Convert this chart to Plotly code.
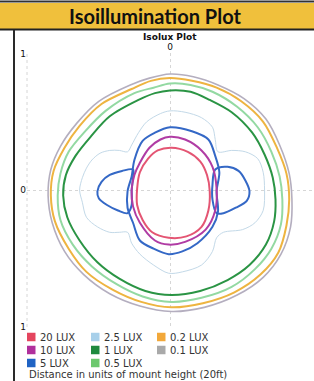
import plotly.graph_objects as go

# ---------------- data (units of mount height) ----------------
legend_labels = ["20 LUX", "2.5 LUX", "0.2 LUX",
                 "10 LUX", "1 LUX", "0.1 LUX",
                 "5 LUX", "0.5 LUX"]
legend_colors = ["#e4455e", "#a8d0ea", "#f2a83a",
                 "#b0309c", "#1e8a3e", "#a9a9a9",
                 "#1f63c4", "#6cc86e"]

axis_tick_vals = [-1, 0, 1]
axis_tick_text = ["1", "0", "1"]

lux20_x = [0.01, 0.13, 0.22, 0.27, 0.29, 0.28, 0.23, 0.12, -0.01, -0.13, -0.20, -0.24, -0.24, -0.22, -0.16, -0.09]
lux20_y = [0.31, 0.28, 0.21, 0.11, -0.01, -0.15, -0.27, -0.34, -0.35, -0.31, -0.22, -0.11, 0.01, 0.13, 0.23, 0.29]

lux10_x = [0.0, 0.11, 0.23, 0.31, 0.34, 0.33, 0.26, 0.11, -0.01, -0.11, -0.22, -0.27, -0.28, -0.26, -0.22, -0.15, -0.07]
lux10_y = [0.39, 0.37, 0.29, 0.17, 0.01, -0.15, -0.29, -0.38, -0.40, -0.37, -0.24, -0.12, 0.0, 0.11, 0.20, 0.31, 0.37]

lux5_x = [0.0, 0.16, 0.28, 0.33, 0.36, 0.34, 0.35, 0.31, 0.20, 0.09, -0.01, -0.12, -0.22, -0.27, -0.31, -0.31, -0.28, -0.26, -0.20, -0.11]
lux5_y = [0.46, 0.43, 0.37, 0.25, 0.13, -0.01, -0.16, -0.27, -0.39, -0.45, -0.47, -0.43, -0.37, -0.24, -0.13, -0.01, 0.10, 0.22, 0.36, 0.42]

lux5_left_x = [-0.27, -0.35, -0.44, -0.50, -0.53, -0.52, -0.46, -0.38, -0.31, -0.28, -0.28, -0.27]
lux5_left_y = [0.15, 0.14, 0.11, 0.06, -0.01, -0.06, -0.11, -0.15, -0.17, -0.11, 0.0, 0.09]

lux5_right_x = [0.33, 0.42, 0.50, 0.55, 0.58, 0.56, 0.48, 0.39, 0.34, 0.31, 0.31]
lux5_right_y = [0.15, 0.17, 0.14, 0.07, -0.01, -0.08, -0.13, -0.17, -0.17, -0.07, 0.04]

lux2_5_x = [0.0, 0.11, 0.23, 0.31, 0.33, 0.35, 0.45, 0.55, 0.64, 0.68, 0.69, 0.68, 0.62, 0.53, 0.39, 0.34, 0.31, 0.23, 0.09, -0.01,
            -0.12, -0.22, -0.28, -0.31, -0.37, -0.44, -0.53, -0.61, -0.64, -0.66, -0.64, -0.61, -0.57, -0.51, -0.44, -0.37, -0.31, -0.28, -0.23, -0.17, -0.07]
lux2_5_y = [0.58, 0.57, 0.53, 0.46, 0.37, 0.28, 0.29, 0.28, 0.23, 0.13, 0.0, -0.15, -0.24, -0.29, -0.31, -0.35, -0.45, -0.55, -0.60, -0.61,
            -0.55, -0.47, -0.39, -0.31, -0.31, -0.31, -0.27, -0.20, -0.09, 0.0, 0.09, 0.16, 0.22, 0.27, 0.29, 0.29, 0.28, 0.33, 0.42, 0.50, 0.56]

lux1_x = [0.0, 0.15, 0.29, 0.45, 0.60, 0.69, 0.75, 0.77, 0.76, 0.70, 0.58, 0.42, 0.22, 0.01, -0.18, -0.37, -0.53, -0.66, -0.75, -0.78, -0.76, -0.69, -0.58, -0.44, -0.23, -0.11]
lux1_y = [0.73, 0.72, 0.66, 0.57, 0.42, 0.26, 0.09, -0.07, -0.23, -0.40, -0.55, -0.66, -0.74, -0.77, -0.74, -0.65, -0.53, -0.37, -0.20, -0.04, 0.11, 0.25, 0.39, 0.54, 0.66, 0.71]

lux0_5_x = [0.0, 0.15, 0.31, 0.49, 0.64, 0.74, 0.80, 0.82, 0.81, 0.74, 0.62, 0.45, 0.23, 0.01, -0.20, -0.39, -0.57, -0.71, -0.80, -0.82, -0.80, -0.74, -0.62, -0.47, -0.26, -0.12]
lux0_5_y = [0.78, 0.77, 0.72, 0.61, 0.46, 0.28, 0.10, -0.07, -0.25, -0.43, -0.58, -0.71, -0.79, -0.82, -0.78, -0.69, -0.56, -0.40, -0.22, -0.04, 0.12, 0.28, 0.43, 0.58, 0.71, 0.75]

lux0_2_x = [0.0, 0.16, 0.34, 0.52, 0.68, 0.78, 0.85, 0.87, 0.85, 0.79, 0.66, 0.47, 0.24, 0.01, -0.21, -0.42, -0.61, -0.74, -0.84, -0.87, -0.85, -0.77, -0.66, -0.50, -0.28, -0.14]
lux0_2_y = [0.82, 0.80, 0.75, 0.65, 0.50, 0.31, 0.12, -0.07, -0.26, -0.46, -0.62, -0.75, -0.83, -0.86, -0.82, -0.73, -0.60, -0.43, -0.23, -0.04, 0.14, 0.31, 0.47, 0.63, 0.74, 0.80]

lux0_1_x = [0.0, 0.17, 0.35, 0.54, 0.70, 0.80, 0.87, 0.89, 0.88, 0.81, 0.68, 0.49, 0.25, 0.01, -0.22, -0.44, -0.63, -0.77, -0.86, -0.89, -0.87, -0.80, -0.68, -0.52, -0.29, -0.15]
lux0_1_y = [0.85, 0.83, 0.77, 0.67, 0.52, 0.33, 0.12, -0.07, -0.27, -0.47, -0.64, -0.77, -0.86, -0.89, -0.85, -0.76, -0.62, -0.45, -0.24, -0.04, 0.15, 0.32, 0.49, 0.65, 0.77, 0.82]

# ---------------- figure ----------------
W, H = 314, 381
ML, MR, MT, MB = 27, 0, 53, 54
PW, PH = W - ML - MR, H - MT - MB


def px_x(p):
    return (p - ML) / PW


def px_y(p):
    return (H - MB - p) / PH


def closed(xs, ys):
    return list(xs) + [xs[0]], list(ys) + [ys[0]]


fig = go.Figure()

contours = [
    (lux0_1_x, lux0_1_y, "#b4aebf", 1.6),
    (lux0_2_x, lux0_2_y, "#eeb440", 2.0),
    (lux0_5_x, lux0_5_y, "#93d9a2", 2.0),
    (lux1_x, lux1_y, "#2a9444", 2.0),
    (lux2_5_x, lux2_5_y, "#c3d9e8", 1.0),
    (lux5_left_x, lux5_left_y, "#3468c6", 2.0),
    (lux5_right_x, lux5_right_y, "#3468c6", 2.0),
    (lux5_x, lux5_y, "#3468c6", 2.0),
    (lux10_x, lux10_y, "#b03ca4", 2.0),
    (lux20_x, lux20_y, "#e45573", 2.0),
]
for xs, ys, col, w in contours:
    cx, cy = closed(xs, ys)
    fig.add_trace(go.Scatter(x=cx, y=cy, mode="lines",
                             line=dict(color=col, width=w, shape="spline", smoothing=0.9),
                             hoverinfo="skip", showlegend=False))

shapes = []
# header band
shapes.append(dict(type="rect", xref="paper", yref="paper",
                   x0=px_x(0), x1=px_x(W), y0=px_y(29), y1=px_y(3),
                   fillcolor="#f0c03c", line=dict(width=0), layer="below"))
shapes.append(dict(type="line", xref="paper", yref="paper",
                   x0=px_x(0), x1=px_x(W), y0=px_y(1.5), y1=px_y(1.5),
                   line=dict(color="#333333", width=2)))
shapes.append(dict(type="line", xref="paper", yref="paper",
                   x0=px_x(0), x1=px_x(W), y0=px_y(29.5), y1=px_y(29.5),
                   line=dict(color="#222222", width=2)))
# left frame line
shapes.append(dict(type="line", xref="paper", yref="paper",
                   x0=px_x(14), x1=px_x(14), y0=px_y(30), y1=px_y(H),
                   line=dict(color="#2a2a2a", width=2)))
# left edge dotted line of plot
shapes.append(dict(type="line", xref="paper", yref="paper",
                   x0=0, x1=0, y0=0, y1=1,
                   line=dict(color="#d6d6d6", width=1, dash="dot")))

annotations = []
annotations.append(dict(text="<b>Isoillumination Plot</b>", xref="paper", yref="paper",
                        x=px_x(155), y=px_y(16), showarrow=False,
                        font=dict(family="Lato", size=20, color="#111111"),
                        xanchor="center", yanchor="middle"))
annotations.append(dict(text="<b>Isolux Plot</b>", xref="paper", yref="paper",
                        x=px_x(170), y=px_y(37.5), showarrow=False,
                        font=dict(family="DejaVu Sans", size=9, color="#111111"),
                        xanchor="center", yanchor="middle"))

# legend grid
col_sq = [27, 91, 157]
row_y = [337, 350, 363]
for i, (lab, col) in enumerate(zip(legend_labels, legend_colors)):
    r, c = divmod(i, 3)
    x0 = col_sq[c]
    yc = row_y[r]
    shapes.append(dict(type="rect", xref="paper", yref="paper",
                       x0=px_x(x0), x1=px_x(x0 + 8.5), y0=px_y(yc + 4.25), y1=px_y(yc - 4.25),
                       fillcolor=col, line=dict(width=0)))
    annotations.append(dict(text=lab, xref="paper", yref="paper",
                            x=px_x(x0 + 11), y=px_y(yc), showarrow=False,
                            font=dict(family="DejaVu Sans", size=10, color="#333333"),
                            xanchor="left", yanchor="middle"))
annotations.append(dict(text="Distance in units of mount height (20ft)", xref="paper", yref="paper",
                        x=px_x(27), y=px_y(374.5), showarrow=False,
                        font=dict(family="DejaVu Sans", size=10, color="#333333"),
                        xanchor="left", yanchor="middle"))

fig.update_layout(
    width=W, height=H,
    margin=dict(l=ML, r=MR, t=MT, b=MB),
    paper_bgcolor="white", plot_bgcolor="white",
    shapes=shapes, annotations=annotations,
    showlegend=False,
    xaxis=dict(range=[-1.044, 1.051], side="top", tickmode="array",
               tickvals=[0], ticktext=["0"], showgrid=True, gridcolor="#d6d6d6",
               griddash="dot", zeroline=False, showline=False, ticks="",
               tickfont=dict(family="DejaVu Sans", size=9, color="#111111"),
               fixedrange=True),
    yaxis=dict(range=[-1.004, 1.004], tickmode="array",
               tickvals=axis_tick_vals, ticktext=axis_tick_text,
               showgrid=True, gridcolor="#d6d6d6", griddash="dot",
               zeroline=False, showline=False, ticks="",
               tickfont=dict(family="DejaVu Sans", size=9, color="#111111"),
               fixedrange=True),
)

fig.write_html("out.html", config={"displayModeBar": False},
               post_script="document.body.style.margin='0';document.body.style.overflow='hidden';")
